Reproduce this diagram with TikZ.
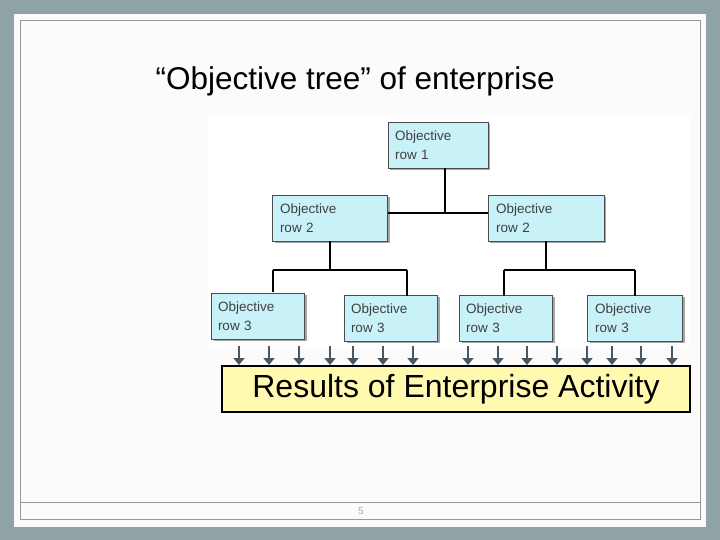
\documentclass[tikz,border=0pt]{standalone}
\usepackage{fontspec}
\setmainfont{Liberation Sans}
\usetikzlibrary{arrows.meta,shadows}
\definecolor{bgc}{HTML}{8FA3A7}
\definecolor{boxc}{HTML}{C8F2F8}
\definecolor{resc}{HTML}{FFFAB0}
\definecolor{arc}{HTML}{4A5660}
\tikzset{
 obj/.style={draw=black!70,fill=boxc,line width=0.6pt,minimum width=93pt,minimum height=46pt,text width=80pt,align=left,inner sep=2pt,font=\fontsize{13.5}{19}\selectfont,text=black!75,drop shadow={shadow xshift=2pt,shadow yshift=-2pt,fill=black!35,opacity=1}},
 tline/.style={line width=2.4pt,black},
 dn/.style={arc,line width=2.2pt,-{Triangle[length=7pt,width=11pt]}}
}
\begin{document}
\begin{tikzpicture}[x=1pt,y=-1pt]
\useasboundingbox (0,0) rectangle (720,540);
\fill[bgc] (0,0) rectangle (720,540);
\fill[white!97!gray] (14,14) rectangle (706,527);
\draw[gray!80,line width=0.5pt] (20,20) rectangle (700,519);
\draw[gray!80,line width=0.8pt] (20,502) -- (700,502);
\node[text=gray!70,font=\fontsize{10}{11}\selectfont] (pg) at (361,511) {5};
\fill[white] (208,115) rectangle (690,347);
\node[font=\fontsize{31.5}{34}\selectfont,anchor=west] (title) at (152,81) {“Objective tree” of enterprise};
\node[obj,minimum width=100pt,text width=86pt] (r1) at (438,145) {Objective\\row 1};
\node[obj,minimum width=115pt,text width=100pt] (a) at (330,218) {Objective\\row 2};
\node[obj,minimum width=116pt,text width=100pt] (b) at (546,218) {Objective\\row 2};
\node[obj] (c1) at (258,316) {Objective\\row 3};
\node[obj] (c2) at (391,318) {Objective\\row 3};
\node[obj] (c3) at (506,318) {Objective\\row 3};
\node[obj,minimum width=95pt] (c4) at (635,318) {Objective\\row 3};
\coordinate (j1) at (445,213);
\draw[tline] (445,168) -- (j1);
\draw[tline] (388,213) -- (488,213);
\draw[tline] (a.south) -- (330,270);
\draw[tline] (273,270) -- (407,270);
\draw[tline] (273,270) -- (273,292);
\draw[tline] (407,270) -- (407,296);
\draw[tline] (b.south) -- (546,270);
\draw[tline] (504,270) -- (635,270);
\draw[tline] (504,270) -- (504,296);
\draw[tline] (635,270) -- (635,296);
\node[draw=black,line width=1.5pt,fill=resc,minimum width=468pt,minimum height=46pt,font=\fontsize{32}{36}\selectfont] (res) at (456,389) {Results of Enterprise Activity};
\foreach \x in {239,269,299,330,353,383,413,468,498,527,557,587,612,641,672}
  \draw[dn] (\x,346) -- (\x,365);
\end{tikzpicture}
\end{document}
